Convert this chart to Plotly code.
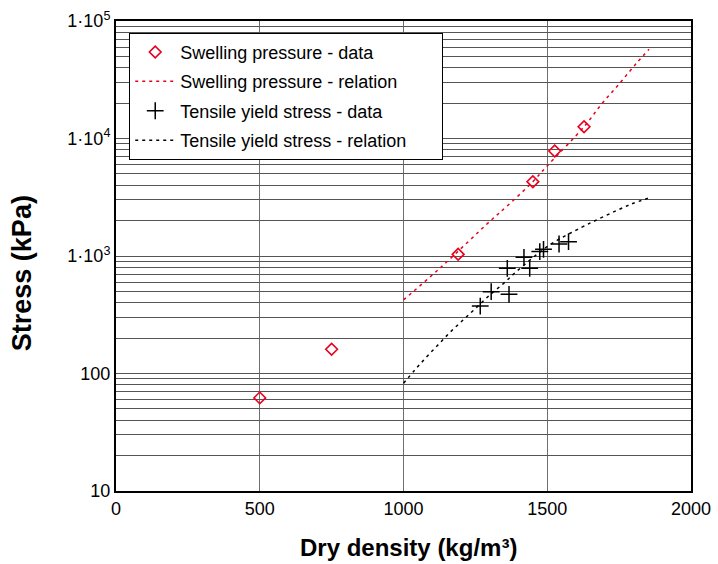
import plotly.graph_objects as go

# Swelling pressure data (dry density kg/m3, stress kPa)
sw_density = [500, 750, 1190, 1450, 1526, 1628]
sw_stress = [62, 161, 1033, 4290, 7830, 12600]

# Swelling pressure relation
swr_density = [1000, 1126, 1305, 1358, 1450, 1497, 1628, 1688, 1752, 1810, 1854]
swr_stress = [423, 785, 2020, 2630, 4290, 5750, 12600, 19500, 29500, 43600, 57400]

# Tensile yield stress data
ty_density = [1267, 1305, 1367, 1361, 1419, 1439, 1474, 1487, 1541, 1574]
ty_stress = [375, 497, 472, 785, 975, 785, 1090, 1140, 1265, 1325]

# Tensile yield stress relation
tyr_density = [1000, 1038, 1076, 1120, 1161, 1207, 1251, 1300, 1346, 1392, 1508, 1619, 1676, 1740, 1793, 1850]
tyr_stress = [82.6, 106, 135, 175, 223, 285, 359, 466, 578, 735, 1240, 1750, 2050, 2430, 2770, 3100]

major_vals = [10, 100, 1000, 10000, 100000]
major_text = ["10", "100", "1·10<sup>3</sup>", "1·10<sup>4</sup>", "1·10<sup>5</sup>"]

yvals, ytext = [], []
for i, base in enumerate(major_vals[:-1]):
    for m in range(1, 10):
        yvals.append(base * m)
        ytext.append(major_text[i] if m == 1 else "")
yvals.append(major_vals[-1])
ytext.append(major_text[-1])

pad = "&nbsp;" * 6

fig = go.Figure()
fig.add_trace(go.Scatter(
    x=sw_density, y=sw_stress, mode="markers", name="Swelling pressure - data",
    marker=dict(symbol="diamond-open", color="#e8001c", size=9, line=dict(width=1.6, color="#e8001c")),
    legendgroup="a"))
fig.add_trace(go.Scatter(
    x=swr_density, y=swr_stress, mode="lines", name="Swelling pressure - relation",
    line=dict(color="#e8001c", width=1.5, dash="3px,4px", shape="spline"), legendgroup="b"))
fig.add_trace(go.Scatter(
    x=ty_density, y=ty_stress, mode="markers", name="Tensile yield stress - data",
    marker=dict(symbol="cross-thin-open", color="black", size=12, line=dict(width=1.5, color="black")),
    legendgroup="c"))
fig.add_trace(go.Scatter(
    x=tyr_density, y=tyr_stress, mode="lines", name="Tensile yield stress - relation" + pad,
    line=dict(color="black", width=1.5, dash="3px,4px", shape="spline"), legendgroup="d"))

font_family = "Liberation Sans, Arial, sans-serif"
fig.update_layout(
    width=718, height=564,
    margin=dict(l=116, r=27, t=21, b=73),
    paper_bgcolor="white", plot_bgcolor="white",
    font=dict(family=font_family, size=18, color="black"),
    showlegend=True,
    legend=dict(
        x=0.023, y=0.975, xanchor="left", yanchor="top",
        bgcolor="white", bordercolor="black", borderwidth=1,
        font=dict(size=18), traceorder="grouped", tracegroupgap=3,
        itemwidth=40,
    ),
    xaxis=dict(
        range=[0, 2000], tickvals=[0, 500, 1000, 1500, 2000],
        showgrid=True, gridcolor="#707070", gridwidth=1,
        showline=True, linecolor="black", linewidth=2, mirror=True,
        ticks="", zeroline=False, tickfont=dict(size=18), automargin=False,
    ),
    yaxis=dict(
        type="log", range=[1, 5], tickvals=yvals, ticktext=ytext,
        showgrid=True, gridcolor="#555555", gridwidth=1,
        showline=True, linecolor="black", linewidth=2, mirror=True,
        ticks="", zeroline=False, tickfont=dict(size=18), automargin=False,
    ),
    annotations=[
        dict(text="<b>Dry density (kg/m³)</b>", xref="paper", yref="paper",
             x=0.509, y=-0.121, xanchor="center", yanchor="middle",
             showarrow=False, font=dict(size=24)),
        dict(text="<b>Stress (kPa)</b>", xref="paper", yref="paper",
             x=-0.163, y=0.464, xanchor="center", yanchor="middle", textangle=-90,
             showarrow=False, font=dict(size=27)),
    ],
)

fig.write_html("out.html")
